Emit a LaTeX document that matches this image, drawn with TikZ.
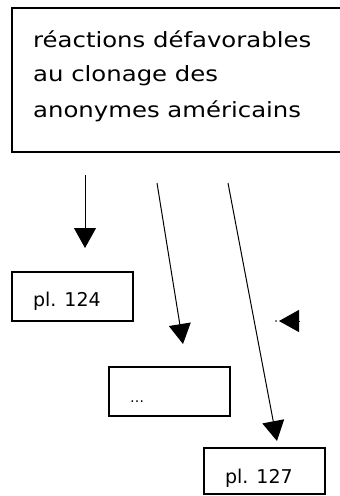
\documentclass[tikz,border=0pt]{standalone}
\usepackage{fontspec}
\newfontfamily\mainf{DejaVu Sans}[FakeStretch=1.16]
\newfontfamily\boxf{DejaVu Sans}
\usetikzlibrary{arrows.meta}
\begin{document}
\begin{tikzpicture}[x=1pt,y=-1pt,
  frame/.style={draw, line width=1.2pt, rectangle, inner sep=0pt, outer sep=0pt},
  pbox/.style={frame, anchor=north west, minimum width=121pt, inner xsep=21pt, inner ysep=0pt, font=\boxf\fontsize{19}{22}\selectfont},
  conn/.style={line width=1pt, -{Triangle[width=22pt,length=20pt]}},
  maintext/.style={anchor=base west, inner sep=0pt, font=\mainf\fontsize{21}{25}\selectfont}]
\useasboundingbox (0,0) rectangle (340,496);
\clip (0,0) rectangle (340,496);
\node[frame, anchor=north west, minimum width=340pt, minimum height=144pt] (top) at (12,8) {};
\node[maintext] (t1) at (33,47) {réactions défavorables};
\node[maintext] (t2) at (33,81) {au clonage des};
\node[maintext] (t3) at (33,117) {anonymes américains};
\node[pbox, text height=34pt, text depth=15pt] (p124) at (12,272) {\makebox[79pt][l]{pl. 124}};
\node[pbox, text height=35pt, text depth=14pt] (pdots) at (109,367) {\makebox[79pt][l]{\fontsize{14}{16}\selectfont …}};
\node[pbox, text height=35pt, text depth=11pt] (p127) at (204,448) {\makebox[79pt][l]{pl. 127}};
\coordinate (a1s) at (85,175);
\coordinate (a1e) at (85,248);
\coordinate (a2s) at (157,183);
\coordinate (a2e) at (183,344);
\coordinate (a3s) at (228,183);
\coordinate (a3e) at (277,441);
\coordinate (a4s) at (300,321);
\coordinate (a4e) at (279,321);
\coordinate (a4d) at (276,321);
\draw[conn] (a1s) -- (a1e);
\draw[conn] (a2s) -- (a2e);
\draw[conn] (a3s) -- (a3e);
\draw[conn] (a4s) -- (a4e);
\fill (a4d) circle (0.9pt);
\end{tikzpicture}
\end{document}
